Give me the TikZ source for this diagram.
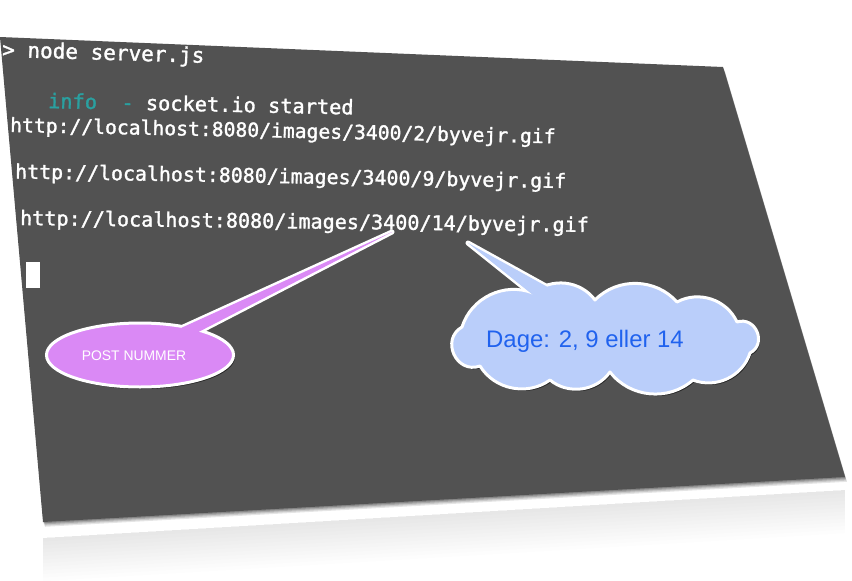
\documentclass[tikz,border=0pt]{standalone}
\usepackage{fontspec}
\setmainfont{Liberation Sans}
\newfontfamily\termfont[FakeBold=1.5]{DejaVu Sans Mono}
\usetikzlibrary{shapes.geometric,shadows}
\definecolor{termgray}{RGB}{82,82,82}
\definecolor{infoteal}{RGB}{42,160,160}
\definecolor{postpurple}{RGB}{218,137,245}
\definecolor{cloudblue}{RGB}{186,206,250}
\definecolor{dageblue}{RGB}{32,98,238}
\tikzset{
  termtext/.style={inner sep=0pt, anchor=west, text=white, font=\termfont},
  calloutshadow/.style={drop shadow={shadow xshift=1.5pt, shadow yshift=-2pt, opacity=0.55, fill=black}},
  tailstroke/.style={draw=white, line width=5pt, line join=round},
  puff/.style={bend left=47},
  endpuff/.style={bend left=85, looseness=1.5},
}
\begin{document}
\begin{tikzpicture}[x=1pt,y=-1pt]
\useasboundingbox (0,0) rectangle (852,581);
% reflection
\foreach \i in {1,...,12}{
  \fill[black, opacity=0.006] (43,538) -- (845,490) -- (845,490+\i*3.6) -- (43,538+\i*3.6) -- cycle;
}
% soft shadow of the terminal
\foreach \d/\o in {4/0.10,3/0.12,2/0.16,1/0.2}{
  \fill[black, opacity=\o, shift={(\d*0.5,\d*1.2)}] (0,37) -- (723,67) -- (845,477) -- (43,522) -- cycle;
}
% terminal
\fill[termgray] (0,37) -- (723,67) -- (845,477) -- (43,522) -- cycle;
% text lines
\node[termtext, rotate=-1.7] (l1) at (2,51) {\fontsize{21}{21}\selectfont > node server.js};
\node[termtext, rotate=-1.2] (l2) at (48,100.5) {\fontsize{20.3}{20.3}\selectfont\textcolor{infoteal}{info~~-}~socket.io started};
\node[termtext, rotate=-1.2] (l3) at (10,126.5) {\fontsize{19.7}{19.7}\selectfont http://localhost:8080/images/3400/2/byvejr.gif};
\node[termtext, rotate=-1.0] (l4) at (15,173) {\fontsize{19.9}{19.9}\selectfont http://localhost:8080/images/3400/9/byvejr.gif};
\node[termtext, rotate=-0.7] (l5) at (20,219.5) {\fontsize{20.1}{20.1}\selectfont http://localhost:8080/images/3400/14/byvejr.gif};
% cursor
\fill[white] (26,262) rectangle (40,288);
% POST NUMMER callout
\coordinate (ptip) at (392,232);
\coordinate (pbl) at (159,338);
\coordinate (pbr) at (183,340);
\draw[tailstroke, fill=postpurple] (ptip) -- (pbl) -- (pbr) -- cycle;
\node[ellipse, minimum width=187pt, minimum height=64pt, inner sep=0pt, fill=postpurple, draw=white, line width=3pt, calloutshadow] (post) at (140,355) {};
\fill[postpurple] (ptip) -- (pbl) -- (pbr) -- cycle;
\node[inner sep=0pt, text=white, font=\fontsize{13.9}{14}\selectfont] (postlbl) at (134,356) {POST NUMMER};
% Dage callout
\coordinate (dtip) at (468,243);
\coordinate (dbl) at (553,311);
\coordinate (dbr) at (582,306);
\draw[tailstroke, fill=cloudblue] (dtip) -- (dbl) -- (dbr) -- cycle;
\draw[fill=cloudblue, draw=white, line width=3pt, line join=round, calloutshadow]
  (462,327) to[puff] (533,293) to[puff] (595,300) to[puff] (677,302)
  to[puff] (737,322) to[endpuff] (750,353) to[puff] (693,380)
  to[puff] (610,372) to[puff] (550,380) to[puff] (480,366)
  to[endpuff] (462,327) -- cycle;
\fill[cloudblue] (dtip) -- (dbl) -- (dbr) -- cycle;
\node[inner sep=0pt, text=dageblue, font=\fontsize{23.9}{24}\selectfont] (dagelbl) at (585,341) {Dage: 2, 9 eller 14};
\end{tikzpicture}
\end{document}
